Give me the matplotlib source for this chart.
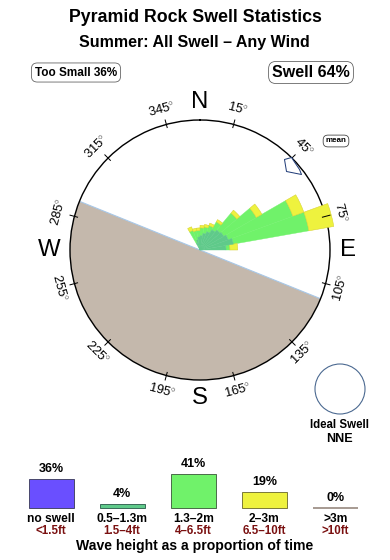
import numpy as np
import matplotlib
matplotlib.use("Agg")
import matplotlib.pyplot as plt
from matplotlib.path import Path
from matplotlib.patches import Ellipse

plt.rcParams['font.family'] = ['Liberation Sans', 'DejaVu Sans']
plt.rcParams['mathtext.fontset'] = 'custom'
plt.rcParams['mathtext.rm'] = 'Liberation Sans'

# ---------------- data ----------------
title = "Pyramid Rock Swell Statistics"
subtitle = "Summer: All Swell \u2013 Any Wind"
too_small_pct = 36
swell_pct = 64

# direction bins (start bearing, 10 deg wide)
dir_bins = [330, 340, 350, 0, 10, 20, 30, 40, 50, 60, 70, 80]
# radial contribution of each height class (fraction of compass radius)
r_small = [0.06, 0.08, 0.10, 0.11, 0.13, 0.15, 0.18, 0.20, 0.21, 0.23, 0.26, 0.20]   # 0.5-1.3m
r_mid = [0.10, 0.07, 0.05, 0.06, 0.05, 0.05, 0.07, 0.17, 0.29, 0.53, 0.59, 0.03]     # 1.3-2m
r_big = [0.03, 0.02, 0.02, 0.02, 0.02, 0.02, 0.02, 0.03, 0.05, 0.09, 0.195, 0.06]    # 2-3m

land_from, land_to = 112, 292
mean_dir = 49
ideal_swell = "NNE"

deg_labels = [15, 45, 75, 105, 135, 165, 195, 225, 255, 285, 315, 345]
cardinals = ["N", "E", "S", "W"]
cardinal_deg = [0, 90, 180, 270]

cat_names = ["no swell", "0.5\u20131.3m", "1.3\u20132m", "2\u20133m", ">3m"]
cat_feet = ["<1.5ft", "1.5\u20134ft", "4\u20136.5ft", "6.5\u201310ft", ">10ft"]
cat_pct = [36, 4, 41, 19, 0]

# ---------------- styles ----------------
c_small = "#5fca8a"
c_mid = "#70f26a"
c_big = "#eef23e"
c_land = "#c4b8ac"
cat_colors = ["#6a4fff", "#5fca8a", "#70f26a", "#eef23e", "#c4b8ac"]
cat_edges = ["#404060", "#306050", "#406040", "#707030", "#a89c94"]
dark_red = "#7a1010"

W, H = 390, 560
DPI = 72
fig = plt.figure(figsize=(W / DPI, H / DPI), dpi=DPI)

def fx(px):
    return px / W

def fy(py):
    return 1 - py / H

# titles
fig.text(fx(195), fy(18), title, ha="center", va="center", fontsize=17.8, fontweight="bold")
fig.text(fx(194), fy(42), subtitle, ha="center", va="center", fontsize=16, fontweight="bold")

fig.text(fx(76), fy(72.5), f"Too Small {too_small_pct}%", ha="center", va="center",
         fontsize=11.8, fontweight="bold",
         bbox=dict(boxstyle="round,pad=0.3,rounding_size=0.5", fc="white", ec="#606060", lw=0.8))
fig.text(fx(311), fy(72.5), f"Swell {swell_pct}%", ha="center", va="center",
         fontsize=16, fontweight="bold",
         bbox=dict(boxstyle="round,pad=0.22,rounding_size=0.45", fc="white", ec="#606060", lw=0.8))
fig.text(fx(336), fy(141), "mean", ha="center", va="center", fontsize=8, fontweight="bold",
         bbox=dict(boxstyle="round,pad=0.3,rounding_size=0.6", fc="white", ec="#404040", lw=0.8))

# ---------------- compass rose ----------------
cx, cy, R = 200, 250, 130
ax = fig.add_axes([fx(cx - R), fy(cy + R), 2 * R / W, 2 * R / H], projection="polar")
ax.set_theta_zero_location("N")
ax.set_theta_direction(-1)
ax.set_ylim(0, 1)
ax.grid(False)
ax.set_xticks([])
ax.set_yticks([])
ax.spines["polar"].set_linewidth(1.4)
ax.spines["polar"].set_color("black")

# land
land_w = (land_to - land_from) % 360
ax.bar(np.deg2rad(land_from + land_w / 2), 1, width=np.deg2rad(land_w), bottom=0,
       color=c_land, edgecolor="none", zorder=1)
ax.plot(np.deg2rad([land_to, land_to, land_from]), [1, 0, 1], color="#a8c8e8", lw=1.1, zorder=2)

# stacked wedges
th = np.deg2rad(np.array(dir_bins) + 5)
wd = np.deg2rad(10)
s = np.array(r_small)
m = np.array(r_mid)
b = np.array(r_big)
ax.bar(th, s, width=wd, bottom=0, color=c_small, edgecolor=c_small, lw=0.4, zorder=4, clip_on=False)
ax.bar(th, m, width=wd, bottom=s, color=c_mid, edgecolor=c_mid, lw=0.4, zorder=3, clip_on=False)
ax.bar(th, b, width=wd, bottom=s + m, color=c_big, edgecolor="#d6d030", lw=0.5, zorder=3, clip_on=False)

# ticks and degree labels
for d in deg_labels:
    t = np.deg2rad(d)
    ax.plot([t, t], [0.975, 1.035], color="black", lw=1, clip_on=False, zorder=5)
    rot = -d if (d < 90 or d > 270) else 180 - d
    ax.text(t, 1.12, f"{d}$^{{\\circ}}$", rotation=rot, rotation_mode="anchor",
            ha="center", va="center", fontsize=13, clip_on=False)

for lab, d in zip(cardinals, cardinal_deg):
    rr = 1.16 if lab in ("W",) else 1.14
    ax.text(np.deg2rad(d), rr, lab, ha="center", va="center", fontsize=24, clip_on=False)

# mean direction marker
arrow_path = Path([(-9, 10), (-2, 12), (6, 0), (8, -5), (-7, -2), (-9, 10)],
                  [Path.MOVETO, Path.LINETO, Path.LINETO, Path.LINETO, Path.LINETO, Path.CLOSEPOLY])
ax.plot(np.deg2rad(mean_dir), 0.95, marker=arrow_path, markersize=24, mfc="white",
        mec="#203c78", mew=1.0, clip_on=False, zorder=6)

# ideal swell
fig.add_artist(Ellipse((fx(340), fy(389)), 50 / W, 50 / H, transform=fig.transFigure,
                       fc="white", ec="#4a6890", lw=1.1))
fig.text(fx(339), fy(425), "Ideal Swell", ha="center", va="center", fontsize=11.5, fontweight="bold")
fig.text(fx(339), fy(439), ideal_swell, ha="center", va="center", fontsize=12.5, fontweight="bold")

# ---------------- height distribution bars ----------------
base_px = 507.7
px_per_pct = 0.81
unit = 71.1
x0 = 51
bax = fig.add_axes([0, fy(base_px), 1, 50 / H])
bax.set_xlim(-x0 / unit, (W - x0) / unit)
bax.set_ylim(0, 50 / px_per_pct)
bax.axis("off")
xs = np.arange(len(cat_pct))
for i, (p, c, e) in enumerate(zip(cat_pct, cat_colors, cat_edges)):
    lw = 2.0 if p == 0 else 0.9
    bax.bar(xs[i], p, width=45 / unit, color=c, edgecolor=e, lw=lw, clip_on=False)
    bax.annotate(f"{p}%", (xs[i], p), xytext=(0, 4), textcoords="offset points",
                 ha="center", va="bottom", fontsize=12.5, fontweight="bold", annotation_clip=False)
    bax.annotate(cat_names[i], (xs[i], 0), xytext=(0, -11.3), textcoords="offset points",
                 ha="center", va="center", fontsize=12, fontweight="bold", annotation_clip=False)
    bax.annotate(cat_feet[i], (xs[i], 0), xytext=(0, -23.6), textcoords="offset points",
                 ha="center", va="center", fontsize=11.5, fontweight="bold", color=dark_red,
                 annotation_clip=False)

fig.text(fx(195), fy(545.7), "Wave height as a proportion of time", ha="center", va="center",
         fontsize=14, fontweight="bold")

fig.savefig("out.png", dpi=DPI)
